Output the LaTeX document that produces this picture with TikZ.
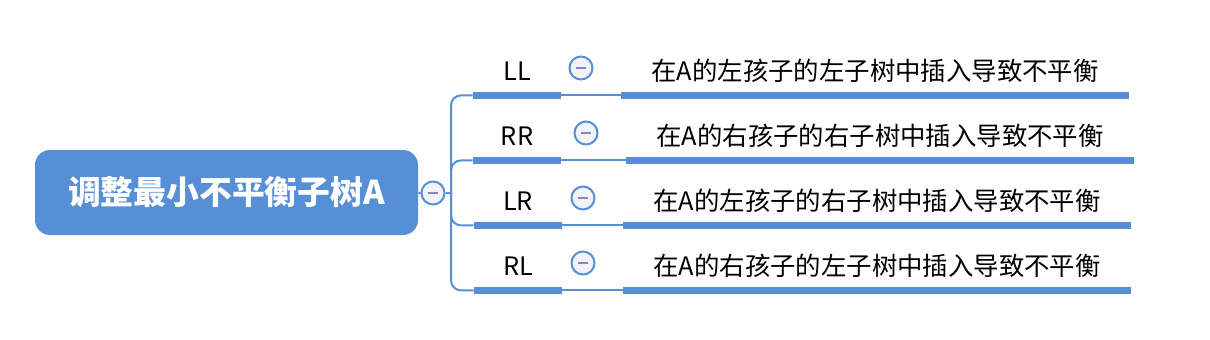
\documentclass[tikz,border=0pt]{standalone}
\usepackage{fontspec}
\newfontfamily\cjk{Noto Sans CJK SC}
\usetikzlibrary{positioning}
\definecolor{mapblue}{RGB}{86,143,214}
\definecolor{minusgray}{RGB}{135,135,190}
\definecolor{togglefill}{RGB}{242,242,247}

\begin{document}
\begin{tikzpicture}[x=0.5pt,y=-0.5pt,
      rootbox/.style={fill=mapblue,rounded corners=7.5pt,inner sep=0pt,
                      minimum width=191.5pt,minimum height=42.5pt,
                      font=\cjk\bfseries\fontsize{16.4}{19}\selectfont,text=white},
      tag/.style={inner sep=0pt,minimum width=44pt,minimum height=24pt,
                  font=\cjk\fontsize{12.7}{15}\selectfont},
      leaf/.style={tag,minimum width=254pt},
      toggle/.style={circle,draw=mapblue,line width=1pt,fill=togglefill,
                     minimum size=11.5pt,inner sep=0pt,
                     path picture={\draw[minusgray,line width=1pt]
                       ([xshift=-2.3pt]path picture bounding box.center) --
                       ([xshift=2.3pt]path picture bounding box.center);}},
      link/.style={draw=mapblue,line width=1pt},
      bar/.style={draw=mapblue,line width=3.5pt}]
  \useasboundingbox (0,0) rectangle (1210,339);

  % root
  \node[rootbox] (root) at (226.5,192.5) {调整最小不平衡子树A};
  \node[toggle] (t0) at (433,193) {};
  \coordinate (fork) at (451,193);

  % four cases
  \node[tag] (ll) at (517,71) {LL};
  \node[leaf] (ll-txt) at (875,71) {在A的左孩子的左子树中插入导致不平衡};
  \node[tag] (rr) at (517,136) {RR};
  \node[leaf] (rr-txt) at (880,136) {在A的右孩子的右子树中插入导致不平衡};
  \node[tag] (lr) at (518,201) {LR};
  \node[leaf] (lr-txt) at (877,201) {在A的左孩子的右子树中插入导致不平衡};
  \node[tag] (rl) at (518,266) {RL};
  \node[leaf] (rl-txt) at (877,266) {在A的右孩子的左子树中插入导致不平衡};

  % connectors
  \draw[link] (root) -- (t0) -- (fork);
  \foreach \n in {ll,rr,lr,rl}{
    \draw[link,rounded corners=5pt] (fork) |- (\n.south west);
    \draw[bar] (\n.south west) -- (\n.south east);
    \draw[link] (\n.south east) -- (\n-txt.south west);
    \draw[bar] (\n-txt.south west) -- (\n-txt.south east);
  }

  % collapse marks
  \node[toggle] (t1) at (581,68) {};
  \node[toggle] (t2) at (586,133) {};
  \node[toggle] (t3) at (583,198) {};
  \node[toggle] (t4) at (583,263) {};
\end{tikzpicture}
\end{document}
